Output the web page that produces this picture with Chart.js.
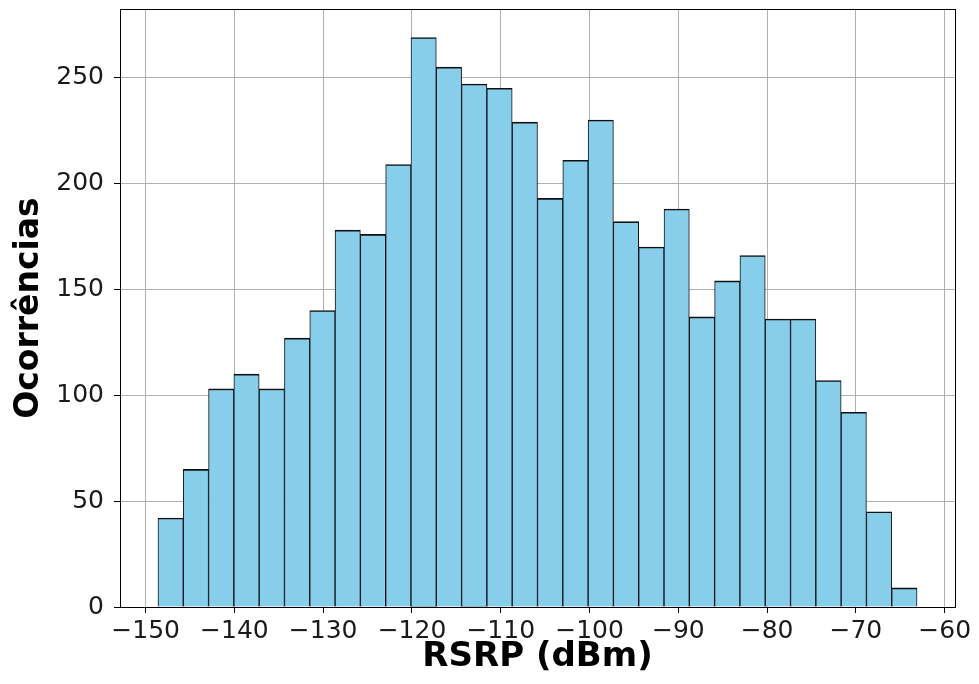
<!DOCTYPE html>
<html><head><meta charset="utf-8">
<script src="https://cdn.jsdelivr.net/npm/chart.js@4.4.1/dist/chart.umd.min.js"></script>
<style>html,body{margin:0;padding:0;background:#fff;} #wrap{width:979px;height:684px;}</style>
</head><body><div id="wrap"><canvas id="c" width="979" height="684"></canvas></div>
<script>
const binEdges = [-148.61, -145.76, -142.91, -140.06, -137.21, -134.36, -131.51, -128.66, -125.81, -122.96,
  -120.11, -117.26, -114.41, -111.56, -108.71, -105.86, -103.01, -100.16, -97.31, -94.46,
  -91.61, -88.76, -85.91, -83.06, -80.21, -77.36, -74.51, -71.66, -68.81, -65.96, -63.11];
const counts = [42, 65, 103, 110, 103, 127, 140, 178, 176, 209,
  269, 255, 247, 245, 229, 193, 211, 230, 182, 170,
  188, 137, 154, 166, 136, 136, 107, 92, 45, 9];
const xTickValues = [-150, -140, -130, -120, -110, -100, -90, -80, -70, -60];
const yTickValues = [0, 50, 100, 150, 200, 250];
const xTitle = 'RSRP (dBm)';
const yTitle = 'Ocorrências';

const points = counts.map((v, i) => ({ x: (binEdges[i] + binEdges[i + 1]) / 2, y: v }));
const span = binEdges[binEdges.length - 1] - binEdges[0];
const xMin = binEdges[0] - 0.05 * span;
const xMax = binEdges[binEdges.length - 1] + 0.05 * span;
const yMax = Math.max(...counts) * 1.05;

const FONT = "'DejaVu Sans', sans-serif";
const fmt = v => String(v).replace('-', '\u2212');

const framePlugin = {
  id: 'frame',
  afterDraw(chart) {
    const { ctx, chartArea: a } = chart;
    ctx.save();
    ctx.strokeStyle = '#000';
    ctx.lineWidth = 1;
    ctx.strokeRect(Math.round(a.left) + 0.5, Math.round(a.top) + 0.5,
      Math.round(a.right) - Math.round(a.left), Math.round(a.bottom) - Math.round(a.top));
    ctx.restore();
  }
};

new Chart(document.getElementById('c'), {
  type: 'bar',
  data: {
    datasets: [{
      data: points,
      backgroundColor: '#87CEEB',
      borderColor: '#111111',
      borderWidth: { top: 1.6, left: 1, right: 1, bottom: 0 },
      borderSkipped: false,
      barPercentage: 1,
      categoryPercentage: 1
    }]
  },
  options: {
    responsive: false,
    animation: false,
    devicePixelRatio: 1,
    layout: { padding: { top: 9, right: 24, bottom: 0, left: 0 } },
    plugins: { legend: { display: false }, tooltip: { enabled: false } },
    scales: {
      x: {
        type: 'linear',
        offset: false,
        z: 1,
        min: xMin,
        max: xMax,
        afterBuildTicks: s => { s.ticks = xTickValues.map(v => ({ value: v })); },
        afterFit: s => { s.height = 77; s.paddingLeft = 0; s.paddingRight = 0; },
        ticks: {
          font: { family: FONT, size: 25 },
          color: '#1a1a1a',
          padding: 3,
          maxRotation: 0,
          autoSkip: false,
          callback: v => fmt(v)
        },
        grid: { offset: false, color: '#b0b0b0', lineWidth: 1, tickLength: 6, tickColor: '#000', tickWidth: 1 },
        border: { display: true, color: '#000', width: 1 },
        title: {
          display: true, text: xTitle,
          font: { family: FONT, size: 34, weight: 'bold' },
          color: '#000',
          padding: { top: 0, bottom: 6 }
        }
      },
      y: {
        type: 'linear',
        z: 1,
        min: 0,
        max: yMax,
        afterBuildTicks: s => { s.ticks = yTickValues.map(v => ({ value: v })); },
        afterFit: s => { s.width = 120; s.paddingTop = 0; s.paddingBottom = 0; },
        ticks: {
          font: { family: FONT, size: 25 },
          color: '#1a1a1a',
          padding: 10,
          autoSkip: false,
          callback: v => fmt(v)
        },
        grid: { color: '#b0b0b0', lineWidth: 1, tickLength: 6, tickColor: '#000', tickWidth: 1 },
        border: { display: true, color: '#000', width: 1 },
        title: {
          display: true, text: yTitle,
          font: { family: FONT, size: 33, weight: 'bold' },
          color: '#000',
          padding: { top: 10, bottom: 0 }
        }
      }
    }
  },
  plugins: [framePlugin]
});
</script>
</body></html>
